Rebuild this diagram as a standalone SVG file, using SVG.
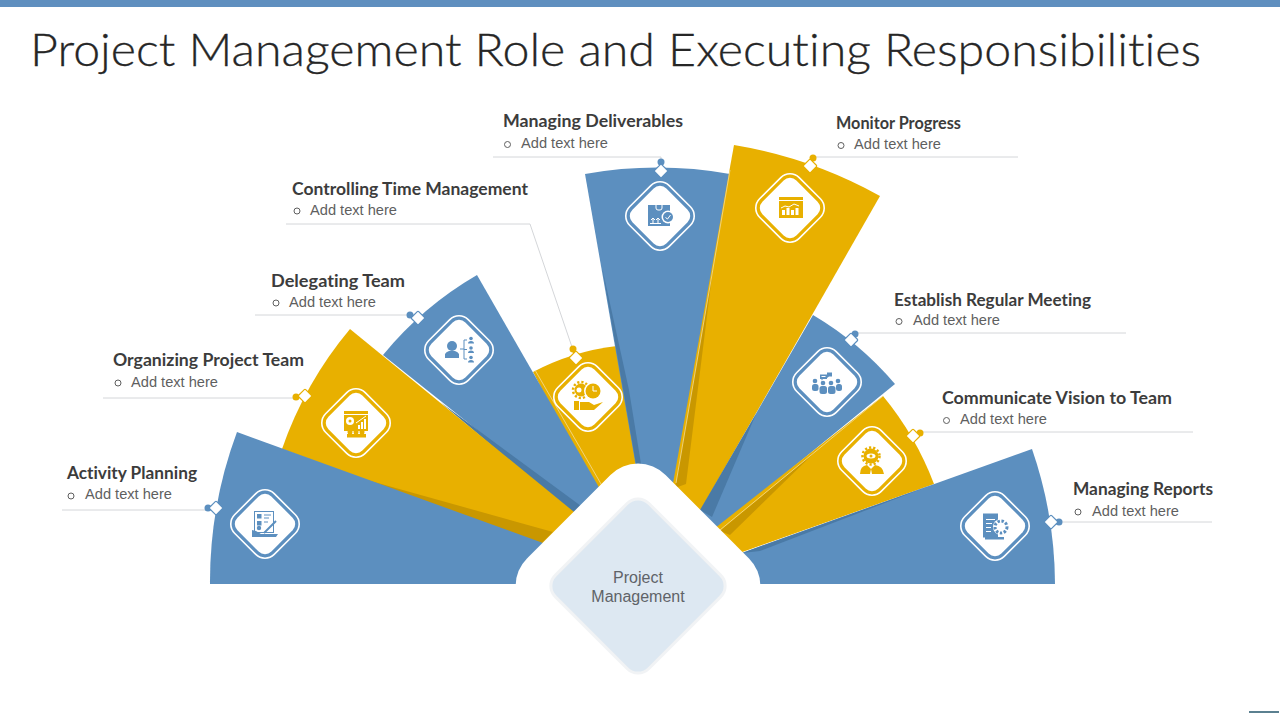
<svg xmlns="http://www.w3.org/2000/svg" width="1280" height="720" viewBox="0 0 1280 720">
<style>
.b{fill:#5c8fbf}.y{fill:#e8b000}.bd{fill:#4a7aa6}.yd{fill:#c99700}.w{fill:#fff}
.sep{fill:none;stroke:#f3dc98;stroke-width:.8}
.ol{fill:none;stroke:#fff;stroke-width:1.6}
.ldr{fill:none;stroke:#d4d6d9;stroke-width:1}
.title{font:300 46px Lato,"Liberation Sans",sans-serif;fill:#262626;stroke:#262626;stroke-width:.3;font-variant-ligatures:none}
.lab{font:bold 16.5px Lato,"Liberation Sans",sans-serif;fill:#3c3c3c;font-variant-ligatures:none}
.add{font:14.5px "Liberation Sans",Arial,sans-serif;fill:#5f5f5f}
.bul{fill:none;stroke:#5f5f5f;stroke-width:1}
.ctr{font:16px "Liberation Sans",Arial,sans-serif;fill:#5f6368;text-anchor:middle}
.wl{fill:none;stroke:#fff;stroke-width:1}
.bl{fill:none;stroke:#5c8fbf;stroke-width:1}
.yl{fill:none;stroke:#e8b000;stroke-width:1}
.sb{stroke:#5c8fbf;stroke-width:1.2}.sy{stroke:#e8b000;stroke-width:1.2}
</style>
<defs>
<g id="dia">
<rect x="-28" y="-28" width="56" height="56" rx="13" class="ol" transform="rotate(45)"/>
<rect x="-24" y="-24" width="48" height="48" rx="9" class="w" transform="rotate(45)"/>
</g>
<rect id="sd" x="-5" y="-5" width="10" height="10" rx="1" class="w" transform="rotate(45)"/>
</defs>
<rect width="1280" height="720" fill="#fff"/>
<rect width="1280" height="7" fill="#5f8fbf"/>
<text x="30" y="66" class="title" textLength="1171" lengthAdjust="spacingAndGlyphs">Project Management Role and Executing Responsibilities</text>

<g id="node-controlling-time">
<path class="y" d="M533 372A238 238 0 0 1 617 346L640 480L600 500Z"/>
<path class="sep" d="M535 370L608 496"/>
<use href="#dia" x="588" y="397"/>
<circle cx="581" cy="390" r="6.500" class="y"/><circle cx="581" cy="390" r="8" fill="none" stroke="#e8b000" stroke-width="2.500" stroke-dasharray="2.200 2"/>
<circle cx="579" cy="390" r="2.500" class="w"/>
<circle cx="593" cy="391" r="9" class="w"/><circle cx="593" cy="391" r="7.500" class="y"/>
<path d="M593 386V391H597" class="wl"/>
<rect x="574" y="401" width="5" height="9" class="y"/>
<path class="y" d="M580 402H589L594 405L603 402L594 410H580Z"/>
<text x="292" y="195" class="lab" textLength="236" lengthAdjust="spacingAndGlyphs">Controlling Time Management</text>
<circle cx="297" cy="211" r="3" class="bul"/>
<text x="310" y="215" class="add" textLength="87" lengthAdjust="spacingAndGlyphs">Add text here</text>
</g>

<g id="node-delegating-team">
<path class="b" d="M383 355A345 345 0 0 1 477 275L612 510L590 520Z"/>
<path class="bd" d="M440 402L581 506L573 514Z"/>
<use href="#dia" x="459" y="350"/>
<circle cx="452" cy="346" r="5" class="b"/>
<path class="b" d="M445 358V354Q446 352 449 351H455Q458 352 459 354V358Z"/>
<path class="bl" d="M460 349H464M464 340V359M464 340H467M464 349.500H467M464 359H467"/>
<circle cx="471" cy="338.500" r="1.800" class="b"/><path class="b" d="M468 343.500Q468 341 471 341Q474 341 474 343.500Z"/>
<circle cx="471" cy="348" r="1.800" class="b"/><path class="b" d="M468 353Q468 350.500 471 350.500Q474 350.500 474 353Z"/>
<circle cx="471" cy="357.500" r="1.800" class="b"/><path class="b" d="M468 362.500Q468 360 471 360Q474 360 474 362.500Z"/>
<text x="271" y="287" class="lab" textLength="134" lengthAdjust="spacingAndGlyphs">Delegating Team</text>
<circle cx="276" cy="303" r="3" class="bul"/>
<text x="289" y="307" class="add" textLength="87" lengthAdjust="spacingAndGlyphs">Add text here</text>
</g>

<g id="node-organizing-team">
<path class="y" d="M282 449A382 382 0 0 1 350 329L590 525L560 552Z"/>
<path class="yd" d="M367 480L553 532L541 544Z"/>
<use href="#dia" x="356" y="423"/>
<rect x="344" y="411" width="24" height="20" class="y"/>
<path class="w" d="M344 414H368V415H344Z"/>
<circle cx="350" cy="421" r="4" class="w"/><circle cx="350" cy="421" r="1.500" class="y"/>
<path class="w" d="M358 429V425H360V429ZM361 429V422H363V429ZM364 429V419H366V429Z"/>
<path class="wl" d="M356 423L366 416"/>
<circle cx="350" cy="432" r="2.500" class="y"/><circle cx="356" cy="432" r="2.500" class="y"/><circle cx="362" cy="432" r="2.500" class="y"/>
<rect x="347" y="434" width="19" height="3.500" class="y"/>
<text x="113" y="366" class="lab" textLength="191" lengthAdjust="spacingAndGlyphs">Organizing Project Team</text>
<circle cx="118" cy="383" r="3" class="bul"/>
<text x="131" y="387" class="add" textLength="87" lengthAdjust="spacingAndGlyphs">Add text here</text>
</g>

<g id="node-activity-planning">
<path class="b" d="M210 584A428 428 0 0 1 237 432L620 571V584Z"/>
<use href="#dia" x="265" y="524"/>
<rect x="254.500" y="511.500" width="19" height="21" class="bl"/>
<rect x="257" y="514" width="4.500" height="4.500" class="b"/><rect x="257" y="521" width="4.500" height="4.500" class="b"/>
<path class="bl" d="M264 515H271M264 518H269M264 522H268"/>
<circle cx="259" cy="528" r="2.200" class="b"/>
<path class="b" d="M252 536V530L256 531L261 534H278L276 537H252Z"/>
<path d="M264 533L276 521" fill="none" stroke="#5c8fbf" stroke-width="2"/>
<text x="67" y="479" class="lab" textLength="130" lengthAdjust="spacingAndGlyphs">Activity Planning</text>
<circle cx="71" cy="496" r="3" class="bul"/>
<text x="85" y="499" class="add" textLength="87" lengthAdjust="spacingAndGlyphs">Add text here</text>
</g>

<g id="node-managing-deliverables">
<path class="b" d="M585 174A416 416 0 0 1 730 174L680 500L640 490Z"/>
<path class="bd" d="M602 267L629 390L642 470H637Z"/>
<use href="#dia" x="660" y="216"/>
<rect x="648" y="205" width="22" height="21" class="b"/>
<path class="wl" d="M656 205V208Q656 210 658 210H660Q662 210 662 208V205"/>
<path class="wl" d="M653 223V218M651 220L653 218L655 220M658 223V218M656 220L658 218L660 220M650 223.500H661"/>
<circle cx="668" cy="217" r="6.500" class="w"/><circle cx="668" cy="217" r="5" class="b"/>
<path class="wl" d="M665.500 217.500L667.500 219L670.500 215"/>
<text x="503" y="127" class="lab" textLength="180" lengthAdjust="spacingAndGlyphs">Managing Deliverables</text>
<circle cx="507.500" cy="144.500" r="3" class="bul"/>
<text x="521" y="148" class="add" textLength="87" lengthAdjust="spacingAndGlyphs">Add text here</text>
</g>

<g id="node-monitor-progress">
<path class="y" d="M734 145A452 452 0 0 1 880 196L695 520L670 500Z"/>
<path class="yd" d="M713 268L686 484L675 488Z"/>
<path class="sep" d="M730 170L676 483"/>
<use href="#dia" x="790" y="208"/>
<rect x="779" y="197" width="24" height="21" class="y"/>
<path class="wl" d="M779 200.500H803"/>
<path class="w" d="M782 215V210H785V215ZM786.500 215V208H789.500V215ZM791 215V210H794V215ZM795.500 215V208H798.500V215Z"/>
<path class="wl" d="M781 208L785 206L789 207L794 204L799 206"/>
<text x="836" y="129" class="lab" textLength="125" lengthAdjust="spacingAndGlyphs">Monitor Progress</text>
<circle cx="841" cy="145.500" r="3" class="bul"/>
<text x="854" y="149" class="add" textLength="87" lengthAdjust="spacingAndGlyphs">Add text here</text>
</g>

<g id="node-regular-meeting">
<path class="b" d="M813 315A323 323 0 0 1 895 384L710 535L690 528Z"/>
<path class="bd" d="M756 414L712 517L700 510Z"/>
<use href="#dia" x="827" y="382"/>
<path class="b" d="M820 374.500H827V379H823L821.500 380.500V379H820Z"/>
<path class="b" d="M827 372.500H832V376.500H829L827 378Z"/>
<path class="w" d="M821.500 376H825.500V377H821.500Z"/>
<circle cx="815" cy="381" r="2.300" class="b"/><circle cx="823" cy="383" r="2.300" class="b"/><circle cx="831" cy="383" r="2.300" class="b"/><circle cx="838" cy="381" r="2.300" class="b"/>
<rect x="812" y="384" width="6.500" height="7" rx="2.500" class="b"/>
<rect x="819.500" y="386" width="7.500" height="8" rx="2.500" class="b"/>
<rect x="828" y="386" width="7.500" height="8" rx="2.500" class="b"/>
<rect x="836" y="384" width="6" height="7" rx="2.500" class="b"/>
<text x="894" y="306" class="lab" textLength="197" lengthAdjust="spacingAndGlyphs">Establish Regular Meeting</text>
<circle cx="899" cy="321.500" r="3" class="bul"/>
<text x="913" y="325" class="add" textLength="87" lengthAdjust="spacingAndGlyphs">Add text here</text>
</g>

<g id="node-communicate-vision">
<path class="y" d="M883 396A311 311 0 0 1 934 484L720 560L710 532Z"/>
<path class="yd" d="M815 452L730 535L720 531Z"/>
<path class="sep" d="M883 396L720 530"/>
<use href="#dia" x="872" y="461"/>
<circle cx="871" cy="456" r="7.500" class="y"/><circle cx="871" cy="456" r="8.500" fill="none" stroke="#e8b000" stroke-width="2.500" stroke-dasharray="2.200 2"/>
<ellipse cx="871" cy="456" rx="4.500" ry="2.500" class="w"/><circle cx="871" cy="456" r="1.500" class="y"/>
<path class="y" d="M860 474Q860 466 867 465L871 469L875 465Q883 466 884 474H872L871 469L870 474Z"/>
<text x="942" y="404" class="lab" textLength="230" lengthAdjust="spacingAndGlyphs">Communicate Vision to Team</text>
<circle cx="946.500" cy="420.500" r="3" class="bul"/>
<text x="960" y="424" class="add" textLength="87" lengthAdjust="spacingAndGlyphs">Add text here</text>
</g>

<g id="node-managing-reports">
<path class="b" d="M1055 584A418 418 0 0 0 1032 449L700 568L740 584Z"/>
<path class="bd" d="M933 484.500L760 551L742 553Z"/>
<use href="#dia" x="995" y="526"/>
<rect x="983" y="513.500" width="15" height="24" class="b"/>
<path class="w" d="M986 519H995V520H986ZM986 523H992V524H986ZM986 527H991V528H986ZM986 531H991V532H986Z"/>
<circle cx="1001" cy="527" r="8" fill="#fff"/>
<circle cx="1001" cy="527" r="6" fill="none" stroke="#5c8fbf" stroke-width="3" stroke-dasharray="2.400 1.600"/>
<rect x="985" y="537" width="19" height="2.500" class="b"/>
<text x="1073" y="495" class="lab" textLength="140" lengthAdjust="spacingAndGlyphs">Managing Reports</text>
<circle cx="1078" cy="512" r="3" class="bul"/>
<text x="1092" y="516" class="add" textLength="87" lengthAdjust="spacingAndGlyphs">Add text here</text>
</g>

<g id="connectors">
<path class="ldr" d="M62 510H208"/>
<path class="ldr" d="M103 398H296"/>
<path class="ldr" d="M255 315H410"/>
<path class="ldr" d="M286 224H530L573 350"/>
<path class="ldr" d="M493 157H661V163"/>
<path class="ldr" d="M1018 157H813"/>
<path class="ldr" d="M1126 333H855"/>
<path class="ldr" d="M1193 432H920"/>
<path class="ldr" d="M1212 522H1058"/>
<g stroke-width="2.500" fill="none">
<path stroke="#5c8fbf" d="M208 508L216 508"/>
<path stroke="#e8b000" d="M296 397L305 396"/>
<path stroke="#5c8fbf" d="M410 315L418 318"/>
<path stroke="#e8b000" d="M573 349L576 358"/>
<path stroke="#5c8fbf" d="M661 162V171"/>
<path stroke="#e8b000" d="M813 158L810 166"/>
<path stroke="#5c8fbf" d="M855 334L851 340"/>
<path stroke="#e8b000" d="M920 433L913 436"/>
<path stroke="#5c8fbf" d="M1059 522H1051"/>
</g>
<circle cx="208" cy="508" r="3.500" class="b"/><use href="#sd" x="216" y="508" class="sb"/>
<circle cx="296" cy="397" r="3.500" class="y"/><use href="#sd" x="305" y="396" class="sy"/>
<circle cx="410" cy="315" r="3.500" class="b"/><use href="#sd" x="418" y="318" class="sb"/>
<circle cx="573" cy="349" r="3.500" class="y"/><use href="#sd" x="576" y="358" class="sy"/>
<circle cx="661" cy="162" r="3.500" class="b"/><use href="#sd" x="661" y="171" class="sb"/>
<circle cx="813" cy="158" r="3.500" class="y"/><use href="#sd" x="810" y="166" class="sy"/>
<circle cx="855" cy="334" r="3.500" class="b"/><use href="#sd" x="851" y="340" class="sb"/>
<circle cx="920" cy="433" r="3.500" class="y"/><use href="#sd" x="913" y="436" class="sy"/>
<circle cx="1059" cy="522" r="3.500" class="b"/><use href="#sd" x="1051" y="522" class="sb"/>
</g>

<g id="node-project-management">
<rect x="-98" y="-98" width="196" height="196" rx="39" class="w" transform="translate(638 586) rotate(45)"/>
<rect x="-66" y="-66" width="132" height="132" rx="15" fill="#dde8f2" stroke="#f1f3f5" stroke-width="3" transform="translate(638 586) rotate(45)"/>
<text x="638" y="583" class="ctr">Project</text>
<text x="638" y="602" class="ctr">Management</text>
</g>
<rect x="1249" y="711" width="30" height="2" fill="#5b8090"/>
</svg>
